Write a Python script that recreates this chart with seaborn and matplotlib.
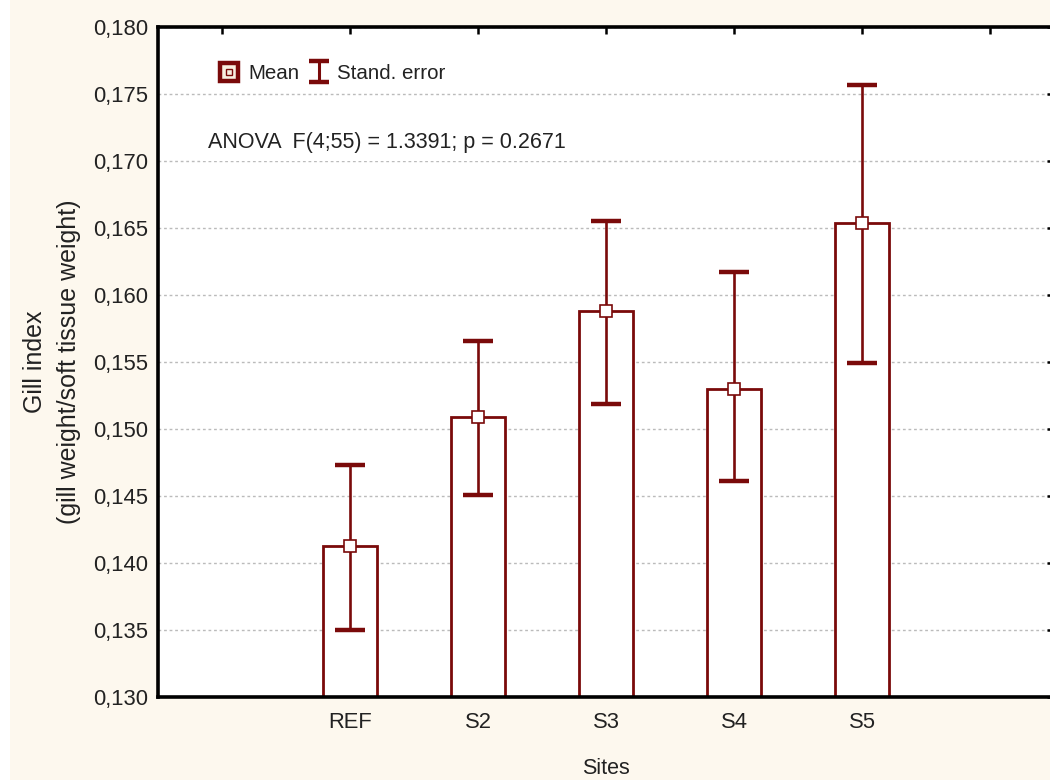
import numpy as np
import pandas as pd
import seaborn as sns
import matplotlib
matplotlib.use("Agg")
import matplotlib.pyplot as plt
from matplotlib.lines import Line2D
from matplotlib.legend_handler import HandlerTuple
from matplotlib.patches import Rectangle
from matplotlib.ticker import FuncFormatter

# ---- data ----
sites = ["REF", "S2", "S3", "S4", "S5"]
means = [0.1413, 0.1509, 0.1588, 0.1530, 0.1654]
se_low = [0.1350, 0.1451, 0.1519, 0.1461, 0.1549]
se_high = [0.1473, 0.1566, 0.1655, 0.1617, 0.1757]
y_ticks = [0.130, 0.135, 0.140, 0.145, 0.150, 0.155, 0.160, 0.165, 0.170, 0.175, 0.180]
x_label = "Sites"
y_label = "Gill index\n(gill weight/soft tissue weight)"
anova_text = "ANOVA  F(4;55) = 1.3391; p = 0.2671"
legend_labels = ["Mean", "Stand. error"]

RED = "#7A0A0A"
CREAM = "#FDF8EE"
TXT = "#222222"

sns.set_theme(style="white")
plt.rcParams['font.family'] = ['Liberation Sans', 'DejaVu Sans']

fig = plt.figure(figsize=(10.5, 7.84), dpi=100, facecolor="white")
fig.patches.append(Rectangle((10 / 1050, 4 / 784), 1.0, 1.0, transform=fig.transFigure,
                             facecolor=CREAM, edgecolor="none", zorder=-10))
ax = fig.add_axes([158 / 1050, 87 / 784, 896 / 1050, 670 / 784])
ax.set_facecolor("white")

df = pd.DataFrame({"site": sites, "mean": means})
sns.barplot(data=df, x="site", y="mean", order=sites, width=0.42, color="white",
            saturation=1, edgecolor=RED, linewidth=2.0, errorbar=None, ax=ax, zorder=2)

xpos = np.arange(len(sites))
m = np.array(means)
yerr = [m - np.array(se_low), np.array(se_high) - m]
ax.errorbar(xpos, m, yerr=yerr, fmt="none", ecolor=RED, elinewidth=1.9,
            capsize=10.5, capthick=3.2, zorder=4)
ax.plot(xpos, m, ls="none", marker="s", ms=8, mfc="white", mec=RED, mew=1.2, zorder=6)

ax.set_ylim(y_ticks[0], y_ticks[-1])
ax.set_yticks(y_ticks)
ax.yaxis.set_major_formatter(FuncFormatter(lambda v, p: f"{v:.3f}".replace(".", ",")))
ax.set_xlim(-1.5, len(sites) + 0.5)
ax.set_xticks(np.arange(-1, len(sites) + 1))
ax.set_xticklabels([""] + sites + [""])

ax.set_axisbelow(True)
ax.yaxis.grid(True, color="#BBBBBB", linestyle=(0, (2, 2)), linewidth=1.0)
ax.xaxis.grid(False)

for s in ax.spines.values():
    s.set_visible(True)
    s.set_color("black")
    s.set_linewidth(2.6)

ax.tick_params(axis="both", direction="in", length=5, width=1.8, color="black",
               top=True, right=True, labelsize=15.8, labelcolor=TXT)
ax.tick_params(axis="y", pad=7)
ax.tick_params(axis="x", pad=11)

ax.set_xlabel(x_label, fontsize=15.5, color=TXT, labelpad=18)
ax.set_ylabel(y_label, fontsize=18, color=TXT, labelpad=9, linespacing=1.5)

ax.text(0.0558, 0.828, anova_text, transform=ax.transAxes, fontsize=15.5, color=TXT,
        ha="left", va="center", zorder=7,
        bbox=dict(facecolor="white", edgecolor="none", pad=6))

# legend proxies
outer = Line2D([], [], ls="none", marker="s", ms=13, mfc="#F8F0E0", mec=RED, mew=3.2)
inner = Line2D([], [], ls="none", marker="s", ms=5, mfc="none", mec=RED, mew=1.0)
eb_proxy = ax.errorbar([np.nan], [np.nan], yerr=[[0.0], [0.0]], fmt="none", ecolor=RED,
                       elinewidth=2.2, capsize=7, capthick=3.2)
ax.legend(handles=[(outer, inner), eb_proxy], labels=legend_labels,
          handler_map={tuple: HandlerTuple(ndivide=1)},
          loc="center left", bbox_to_anchor=(0.058, 0.931), frameon=False, ncol=2,
          fontsize=14.8, handlelength=1.1, handletextpad=0.35, columnspacing=0.4,
          borderaxespad=0, labelcolor=TXT)

fig.savefig("out.png", dpi=100, facecolor=fig.get_facecolor())
